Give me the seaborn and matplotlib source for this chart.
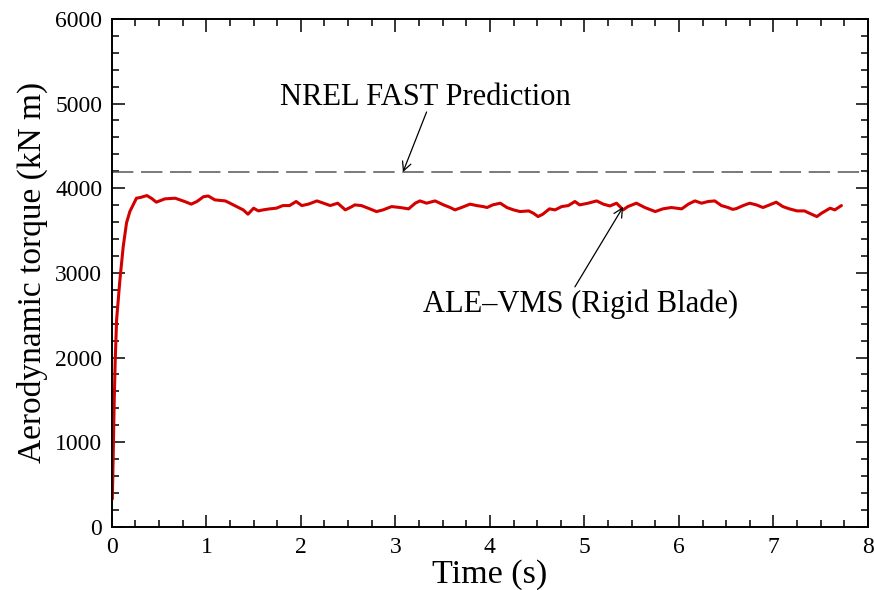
import matplotlib
matplotlib.use("Agg")
import matplotlib.pyplot as plt
import seaborn as sns
import pandas as pd
from matplotlib.ticker import MultipleLocator

# ---- data ----
time_s = [0.005, 0.015, 0.025, 0.035, 0.05, 0.085, 0.12, 0.155, 0.19, 0.225, 0.26, 0.30, 0.37,
          0.42, 0.47, 0.56, 0.67, 0.77, 0.84, 0.90, 0.97, 1.02, 1.09, 1.20, 1.25, 1.32, 1.39,
          1.44, 1.50, 1.55, 1.60, 1.67, 1.74, 1.81, 1.88, 1.95, 2.01, 2.08, 2.17, 2.24, 2.31,
          2.39, 2.47, 2.54, 2.57, 2.64, 2.73, 2.80, 2.87, 2.96, 3.05, 3.14, 3.21, 3.26, 3.33,
          3.42, 3.51, 3.58, 3.63, 3.70, 3.79, 3.86, 3.93, 3.97, 4.03, 4.11, 4.18, 4.25, 4.32,
          4.41, 4.46, 4.51, 4.56, 4.63, 4.69, 4.76, 4.83, 4.90, 4.95, 5.04, 5.13, 5.20, 5.27,
          5.34, 5.41, 5.46, 5.55, 5.64, 5.75, 5.83, 5.92, 6.03, 6.10, 6.17, 6.24, 6.31, 6.38,
          6.45, 6.52, 6.57, 6.61, 6.68, 6.75, 6.82, 6.89, 6.96, 7.03, 7.10, 7.17, 7.25, 7.33,
          7.38, 7.46, 7.51, 7.60, 7.65, 7.72]
torque_knm = [330, 900, 1500, 1950, 2445, 2917, 3310, 3590, 3724, 3803, 3882, 3890, 3913,
              3880, 3835, 3874, 3882, 3843, 3812, 3843, 3900, 3908, 3862, 3850, 3823, 3783, 3744,
              3693, 3764, 3732, 3744, 3756, 3764, 3795, 3795, 3843, 3795, 3812, 3850, 3823, 3795,
              3823, 3744, 3783, 3803, 3795, 3756, 3724, 3744, 3783, 3772, 3756, 3823, 3850, 3823,
              3850, 3803, 3772, 3744, 3772, 3812, 3795, 3783, 3772, 3803, 3823, 3772, 3744, 3724,
              3732, 3705, 3665, 3693, 3756, 3744, 3783, 3795, 3843, 3803, 3823, 3850, 3812, 3790,
              3823, 3744, 3783, 3823, 3772, 3724, 3756, 3772, 3756, 3812, 3850, 3823, 3843, 3850,
              3795, 3772, 3750, 3760, 3795, 3823, 3803, 3772, 3803, 3835, 3783, 3756, 3732, 3732,
              3705, 3665, 3705, 3764, 3744, 3795]
fast_prediction = 4190

label_fast = "NREL FAST Prediction"
label_ale = "ALE\u2013VMS (Rigid Blade)"
xlabel = "Time (s)"
ylabel = "Aerodynamic torque (kN m)"

df = pd.DataFrame({"time": time_s, "torque": torque_knm})

sns.set_style("ticks")
plt.rcParams["font.family"] = ["Liberation Serif", "DejaVu Serif"]
plt.rcParams["text.color"] = "black"
plt.rcParams["axes.labelcolor"] = "black"
plt.rcParams["xtick.color"] = "black"
plt.rcParams["ytick.color"] = "black"

fig = plt.figure(figsize=(8.74, 5.90), dpi=100)
ax = fig.add_axes([0.128, 0.107, 0.865, 0.861])

sns.lineplot(data=df, x="time", y="torque", ax=ax, color="#d40000", linewidth=2.2)
ax.axhline(fast_prediction, color="#555555", linewidth=1.1, dashes=(14, 5))

ax.set_xlim(0, 8)
ax.set_ylim(0, 6000)
ax.xaxis.set_major_locator(MultipleLocator(1))
ax.xaxis.set_minor_locator(MultipleLocator(0.25))
ax.yaxis.set_major_locator(MultipleLocator(1000))
ax.yaxis.set_minor_locator(MultipleLocator(200))
ax.tick_params(which="both", direction="in", top=True, right=True, width=1.1,
               colors="black", labelcolor="black")
ax.tick_params(which="major", length=9, labelsize=17, pad=7)
ax.tick_params(which="minor", length=5)
for s in ax.spines.values():
    s.set_linewidth(1.4)
    s.set_color("black")

ax.set_xlabel(xlabel, fontsize=24.5, labelpad=1, color="black")
ax.set_ylabel(ylabel, fontsize=24, labelpad=5, color="black")

arrow = dict(arrowstyle="->", color="black", lw=0.9, shrinkA=0, shrinkB=0, mutation_scale=16)
ax.annotate("", xy=(3.08, fast_prediction), xytext=(3.33, 4900), arrowprops=arrow)
ax.text(3.32, 5067, label_fast, fontsize=22, ha="center", va="center", color="black")
ax.annotate("", xy=(5.41, 3779), xytext=(4.90, 2835), arrowprops=arrow)
ax.text(4.96, 2634, label_ale, fontsize=22, ha="center", va="center", color="black")

fig.savefig("out.png", dpi=100)
